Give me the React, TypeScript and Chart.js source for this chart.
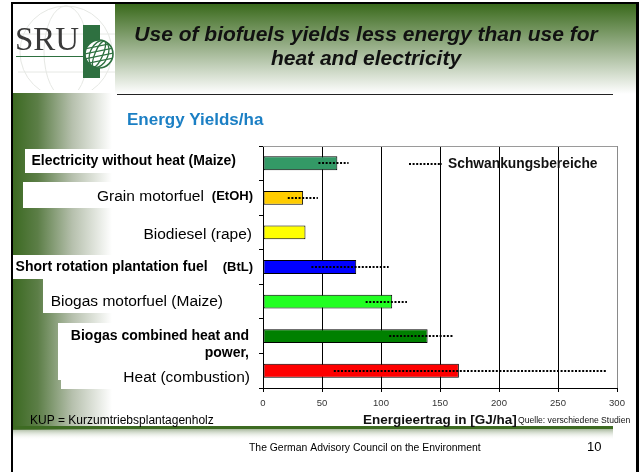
import React, { useEffect, useRef } from "react";
import { Chart, registerables } from "chart.js";

Chart.register(...registerables);

// ---------- data ----------
const categories = [
  "Electricity without heat (Maize)",
  "Grain motorfuel (EtOH)",
  "Biodiesel (rape)",
  "Short rotation plantation fuel (BtL)",
  "Biogas motorfuel (Maize)",
  "Biogas combined heat and power,",
  "Heat (combustion)",
];
const yieldValues = [63, 34, 36, 79, 109.5, 139.5, 166];
const rangeLow: (number | null)[] = [47, 21, null, 41, 87, 107, 60];
const rangeHigh: (number | null)[] = [72.5, 46.5, null, 106.5, 122, 161, 291.5];
const barColors = ["#339966", "#FFCC00", "#FFFF00", "#0000FF", "#22FF22", "#008000", "#FF0000"];
const xMin = 0;
const xMax = 300;
const xStep = 50;
const titleLines = ["Use of biofuels yields less energy than use for", "heat and electricity"];
const subTitle = "Energy Yields/ha";
const legendLabel = "Schwankungsbereiche";
const xAxisTitle = "Energieertrag in [GJ/ha]";
const sourceNote = "Quelle: verschiedene Studien";
const abbrevNote = "KUP = Kurzumtriebsplantagenholz";
const footerText = "The German Advisory Council on the Environment";
const pageNumber = "10";
const logoText = "SRU";

// ---------- presentation ----------
const FONT = "'Liberation Sans', Arial, sans-serif";
// mode: b = bold, n = normal, nP = normal + bold parenthesis, bP = bold + bold parenthesis, two = two bold lines
const labelFormat = [
  { mode: "b", right: 236, dy: -2 },
  { mode: "nP", right: 253, dy: -1 },
  { mode: "n", right: 252, dy: 2 },
  { mode: "bP", right: 253, dy: 0 },
  { mode: "n", right: 223, dy: 0 },
  { mode: "two", right: 249, dy: 0 },
  { mode: "n", right: 250, dy: 7 },
];
const labelBoxes = [
  [25, 149, 235, 24],
  [23, 182, 237, 26],
  [13, 255, 247, 24],
  [43, 278, 217, 35],
  [58, 323, 202, 57],
  [61, 360, 199, 29],
];

function drawDecor(ctx: CanvasRenderingContext2D) {
  ctx.save();
  ctx.fillStyle = "#fff";
  ctx.fillRect(0, 0, 642, 472);

  // title gradient
  const tg = ctx.createLinearGradient(0, 4, 0, 94);
  tg.addColorStop(0, "#3A6A1C");
  tg.addColorStop(0.5, "#9DB38F");
  tg.addColorStop(1, "#FFFFFF");
  ctx.fillStyle = tg;
  ctx.fillRect(115, 4, 522, 92);

  // left strip gradient
  const lg = ctx.createLinearGradient(13, 0, 112, 0);
  lg.addColorStop(0, "#3C6A22");
  lg.addColorStop(0.25, "#5C7E47");
  lg.addColorStop(0.6, "#B6C0AD");
  lg.addColorStop(1, "#FFFFFF");
  ctx.fillStyle = lg;
  ctx.fillRect(13, 93, 100, 337);

  // logo box
  ctx.fillStyle = "#fff";
  ctx.fillRect(13, 4, 102, 86);
  ctx.save();
  ctx.beginPath();
  ctx.rect(13, 4, 102, 86);
  ctx.clip();
  ctx.strokeStyle = "#e6e8e4";
  ctx.lineWidth = 1;
  ctx.beginPath();
  ctx.arc(66, 52, 46, 0, Math.PI * 2);
  ctx.stroke();
  ctx.beginPath();
  ctx.ellipse(66, 52, 22, 46, 0, 0, Math.PI * 2);
  ctx.stroke();
  ctx.beginPath();
  ctx.moveTo(18, 34);
  ctx.lineTo(115, 34);
  ctx.moveTo(18, 72);
  ctx.lineTo(115, 72);
  ctx.stroke();
  ctx.restore();

  ctx.fillStyle = "#3a3a3a";
  ctx.font = "33px 'Liberation Serif', 'Times New Roman', serif";
  ctx.textAlign = "left";
  ctx.textBaseline = "alphabetic";
  ctx.fillText(logoText, 15, 50);
  ctx.fillStyle = "#2E7040";
  ctx.fillRect(16, 56, 68, 1);
  ctx.fillRect(83, 25, 17, 53);
  // globe
  ctx.beginPath();
  ctx.arc(99, 54, 14, 0, Math.PI * 2);
  ctx.fillStyle = "#fff";
  ctx.fill();
  ctx.strokeStyle = "#2E7040";
  ctx.lineWidth = 1.6;
  ctx.stroke();
  ctx.save();
  ctx.beginPath();
  ctx.arc(99, 54, 14, 0, Math.PI * 2);
  ctx.clip();
  ctx.lineWidth = 1.3;
  for (const rx of [4, 9]) {
    ctx.beginPath();
    ctx.ellipse(99, 54, rx, 14, 0.4, 0, Math.PI * 2);
    ctx.stroke();
  }
  for (const dy of [-8, -3, 2, 7]) {
    ctx.beginPath();
    ctx.moveTo(84, 54 + dy + 3);
    ctx.lineTo(114, 54 + dy - 3);
    ctx.stroke();
  }
  ctx.restore();

  // borders
  ctx.fillStyle = "#000";
  ctx.fillRect(11, 2, 628, 2);
  ctx.fillRect(11, 2, 2, 470);
  ctx.fillRect(636, 2, 3, 470);

  // title underline
  ctx.fillStyle = "#222";
  ctx.fillRect(117, 94, 496, 1);

  // title
  ctx.fillStyle = "#111";
  ctx.font = `italic bold 21px ${FONT}`;
  ctx.textAlign = "center";
  ctx.textBaseline = "middle";
  ctx.fillText(titleLines[0], 366, 35);
  ctx.fillText(titleLines[1], 366, 59);

  // subtitle
  ctx.fillStyle = "#1B7FC4";
  ctx.font = `bold 17px ${FONT}`;
  ctx.textAlign = "left";
  ctx.fillText(subTitle, 127, 120);

  // label boxes
  ctx.fillStyle = "#fff";
  for (const [x, y, w, h] of labelBoxes) ctx.fillRect(x, y, w, h);

  // bottom line
  ctx.fillStyle = "#3D6B22";
  ctx.fillRect(13, 426, 600, 3);
  const bg = ctx.createLinearGradient(0, 429, 0, 440);
  bg.addColorStop(0, "rgba(95,125,75,0.55)");
  bg.addColorStop(1, "rgba(255,255,255,0)");
  ctx.fillStyle = bg;
  ctx.fillRect(13, 429, 600, 11);

  // notes
  ctx.fillStyle = "#000";
  ctx.font = `12px ${FONT}`;
  ctx.textAlign = "left";
  ctx.fillText(abbrevNote, 30, 421);

  ctx.font = `10.4px ${FONT}`;
  ctx.textAlign = "left";
  ctx.fillText(footerText, 249, 448);
  ctx.font = `13px ${FONT}`;
  ctx.fillText(pageNumber, 587, 447);
  ctx.restore();
}

function drawOverlay(chart: any) {
  const ctx: CanvasRenderingContext2D = chart.ctx;
  const xs = chart.scales.x;
  const ys = chart.scales.y;
  ctx.save();

  // dotted ranges
  ctx.strokeStyle = "#000";
  ctx.lineWidth = 2;
  ctx.setLineDash([2, 1.6]);
  categories.forEach((_, i) => {
    const lo = rangeLow[i];
    const hi = rangeHigh[i];
    if (lo == null || hi == null) return;
    const y = Math.round(ys.getPixelForValue(i));
    ctx.beginPath();
    ctx.moveTo(xs.getPixelForValue(lo), y);
    ctx.lineTo(xs.getPixelForValue(hi), y);
    ctx.stroke();
  });

  // legend
  ctx.beginPath();
  ctx.moveTo(409, 164);
  ctx.lineTo(442, 164);
  ctx.stroke();
  ctx.setLineDash([]);
  ctx.fillStyle = "#111";
  ctx.font = `bold 13.8px ${FONT}`;
  ctx.textAlign = "left";
  ctx.textBaseline = "middle";
  ctx.fillText(legendLabel, 448, 164);

  // category labels
  ctx.fillStyle = "#000";
  categories.forEach((label, i) => {
    const f = labelFormat[i];
    const y = ys.getPixelForValue(i) + f.dy;
    ctx.textAlign = "right";
    if (f.mode === "b") {
      ctx.font = `bold 14px ${FONT}`;
      ctx.fillText(label, f.right, y);
    } else if (f.mode === "n") {
      ctx.font = `15.5px ${FONT}`;
      ctx.fillText(label, f.right, y);
    } else if (f.mode === "nP" || f.mode === "bP") {
      const k = label.lastIndexOf("(");
      const main = label.slice(0, k).trim();
      const paren = label.slice(k);
      ctx.font = `bold 13px ${FONT}`;
      ctx.fillText(paren, f.right, y);
      const pw = ctx.measureText(paren).width;
      ctx.font = f.mode === "nP" ? `15.5px ${FONT}` : `bold 14px ${FONT}`;
      ctx.fillText(main, f.right - pw - (f.mode === "nP" ? 8 : 15), y);
    } else if (f.mode === "two") {
      const k = label.lastIndexOf(" ");
      ctx.font = `bold 14px ${FONT}`;
      ctx.fillText(label.slice(0, k), f.right, y);
      ctx.fillText(label.slice(k + 1), f.right, y + 17);
    }
  });

  // axis title and source
  ctx.textAlign = "left";
  ctx.font = `bold 13.5px ${FONT}`;
  ctx.fillStyle = "#111";
  ctx.fillText(xAxisTitle, 363, 420);
  ctx.font = `8.6px ${FONT}`;
  ctx.fillText(sourceNote, 518, 421);
  ctx.restore();
}

const decorPlugin = {
  id: "slideDecor",
  beforeDraw(chart: any) {
    drawDecor(chart.ctx);
  },
  beforeDatasetsDraw(chart: any) {
    const { ctx, chartArea } = chart;
    ctx.save();
    ctx.strokeStyle = "#9a9a9a";
    ctx.lineWidth = 1;
    ctx.beginPath();
    ctx.moveTo(chartArea.left, chartArea.top + 0.5);
    ctx.lineTo(chartArea.right, chartArea.top + 0.5);
    ctx.stroke();
    ctx.restore();
  },
  afterDatasetsDraw(chart: any) {
    drawOverlay(chart);
  },
};

export default function App() {
  const ref = useRef<HTMLCanvasElement | null>(null);
  useEffect(() => {
    document.body.style.margin = "0";
    const canvas = ref.current;
    if (!canvas) return;
    const chart = new Chart(canvas, {
      type: "bar",
      data: {
        labels: categories,
        datasets: [
          {
            data: yieldValues,
            backgroundColor: barColors,
            borderColor: "#000",
            borderWidth: 1,
            borderSkipped: false,
            barPercentage: 0.4,
            categoryPercentage: 1,
          },
        ],
      },
      options: {
        indexAxis: "y",
        animation: false,
        responsive: false,
        devicePixelRatio: 1,
        layout: { padding: { top: 146, right: 25, left: 0, bottom: 0 } },
        plugins: { legend: { display: false }, tooltip: { enabled: false }, title: { display: false } },
        scales: {
          x: {
            type: "linear",
            min: xMin,
            max: xMax,
            ticks: {
              stepSize: xStep,
              font: { family: "'Liberation Sans', Arial, sans-serif", size: 9.5 },
              color: "#333",
              padding: 6,
            },
            grid: {
              color: (c: any) => (c.tick && c.tick.value === xMax ? "#8a8a8a" : "#000"),
              tickColor: "#000",
              tickLength: 4,
              lineWidth: 1,
            },
            border: { color: "#000", width: 1 },
            afterFit(scale: any) {
              scale.height = 472 - 388;
            },
          },
          y: {
            type: "category",
            ticks: { display: false },
            grid: {
              drawOnChartArea: false,
              drawTicks: true,
              tickLength: 4,
              color: "#000",
              offset: true,
            },
            border: { color: "#000", width: 1 },
            afterFit(scale: any) {
              scale.width = 263;
            },
          },
        },
      },
      plugins: [decorPlugin],
    });
    return () => chart.destroy();
  }, []);
  return <canvas ref={ref} width={642} height={472} style={{ display: "block" }} />;
}
